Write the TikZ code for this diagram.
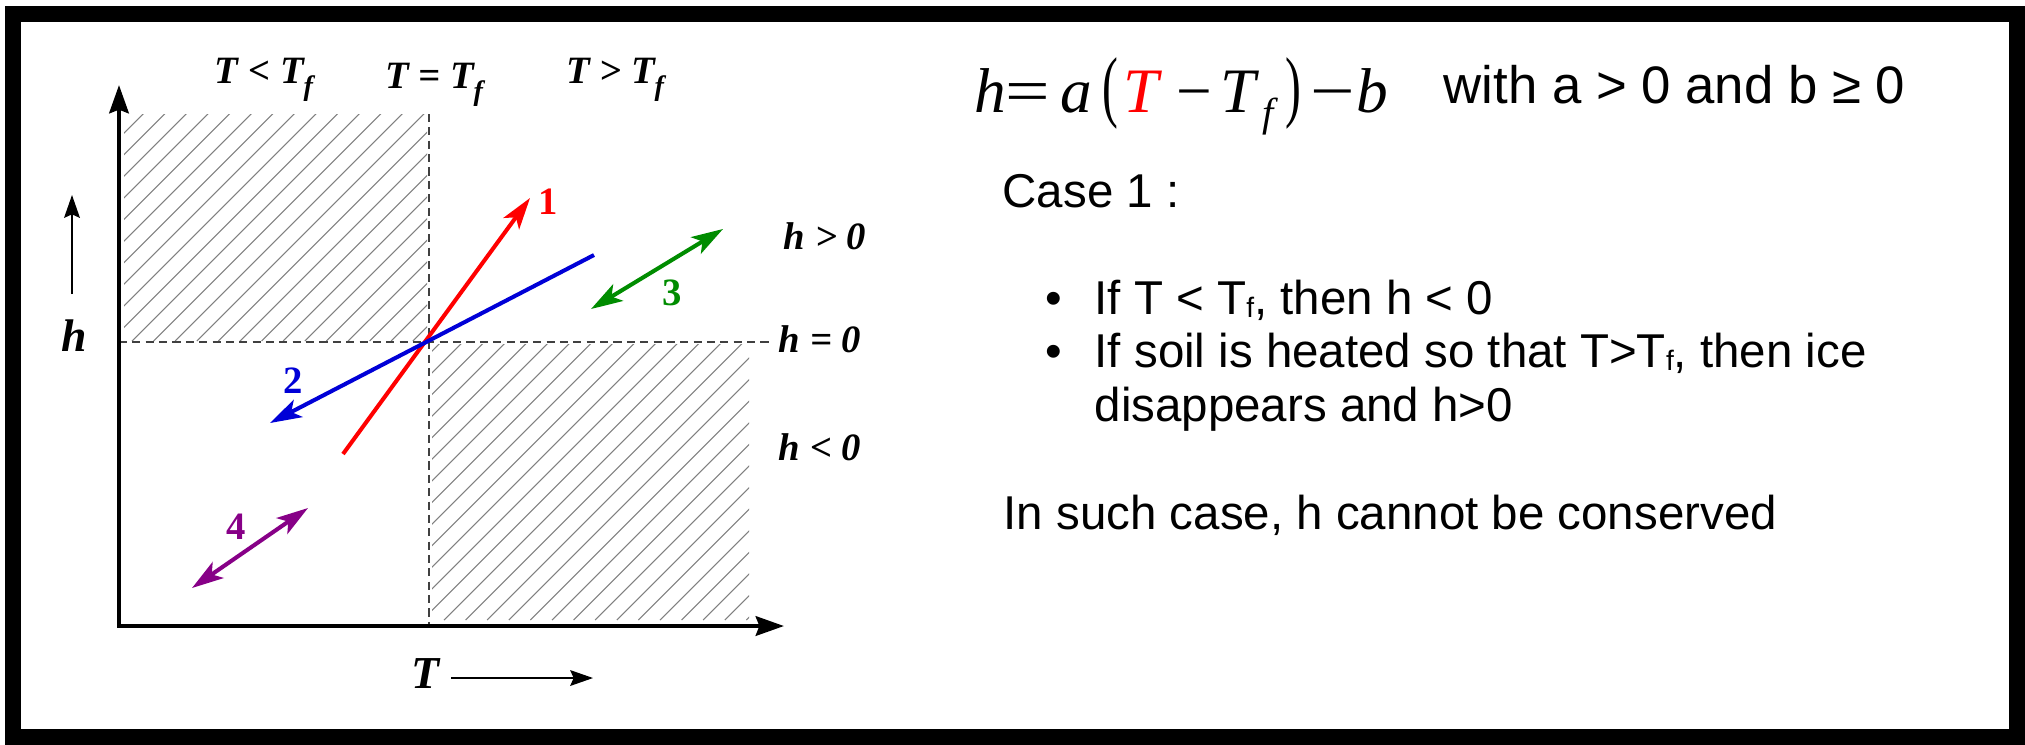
\documentclass[tikz,border=0pt]{standalone}
\usepackage{fontspec}
\usepackage{graphicx}
\setmainfont{Liberation Sans}
\newfontfamily\tms{Liberation Serif}
\usetikzlibrary{arrows.meta}
\definecolor{cred}{RGB}{255,0,0}
\definecolor{cblue}{RGB}{0,0,215}
\definecolor{cgreen}{RGB}{0,140,0}
\definecolor{cpurple}{RGB}{135,0,135}
\tikzset{
  axisline/.style={line width=1.3pt, {Stealth[length=8pt,width=5.5pt,inset=1pt]}-{Stealth[length=8pt,width=5.5pt,inset=1pt]}},
  guide/.style={line width=0.55pt, draw=black!75, dash pattern=on 2.3pt off 1.5pt},
  hatch/.style={line width=0.3pt, draw=black!50},
  vec/.style={line width=1.15pt},
  tip/.style={arrows={-Stealth[length=9pt,width=5.5pt,inset=2.2pt]}},
  dtip/.style={arrows={Stealth[length=9pt,width=5.5pt,inset=2.2pt]-Stealth[length=9pt,width=5.5pt,inset=2.2pt]}},
  thinarrow/.style={line width=0.35pt, -{Stealth[length=6.5pt,width=4.5pt,inset=1pt]}},
  plotlbl/.style={font=\fontsize{11}{13}\selectfont\tms\bfseries\itshape, inner sep=0, anchor=base},
  biglbl/.style={font=\fontsize{13}{15}\selectfont\tms\bfseries\itshape, inner sep=0, anchor=base},
  numlbl/.style={font=\fontsize{11}{13}\selectfont\tms\bfseries, inner sep=0},
  txt/.style={font=\fontsize{13.5}{16}\selectfont, inner sep=0, anchor=base west},
  eqi/.style={font=\fontsize{18}{21}\selectfont\tms\itshape, inner sep=0, anchor=base west},
  equ/.style={font=\fontsize{18}{21}\selectfont\tms, inner sep=0, anchor=base west},
  frame/.style={line width=4.3pt, draw=black}
}
\newcommand{\sub}[1]{\raisebox{-3.5pt}{\fontsize{8}{8}\selectfont #1}}
\newcommand{\tsub}[1]{\raisebox{-1pt}{\fontsize{8}{8}\selectfont #1}}
\begin{document}
\begin{tikzpicture}[x=0.01cm,y=-0.01cm]
\useasboundingbox (0,0) rectangle (2025,744);
\fill[white] (0,0) rectangle (2025,744);
\draw[frame] (13,14) rectangle (2017,737);

% hatched regions
\begin{scope}
\clip (124,114) rectangle (427,341);
\foreach \k in {-300,-278.4,...,440} \draw[hatch] (\k,341) -- ++(330,-330);
\end{scope}
\begin{scope}
\clip (432,344) rectangle (749,620);
\foreach \k in {120,141.6,...,760} \draw[hatch] (\k,620) -- ++(330,-330);
\end{scope}

% guides
\coordinate (vtop) at (429,114);
\coordinate (vbot) at (429,626);
\coordinate (hleft) at (119,342);
\coordinate (hright) at (772,342);
\draw[guide] (vtop) -- (vbot);
\draw[guide] (hleft) -- (hright);

% axes
\coordinate (ytop) at (119,85);
\coordinate (O) at (119,626);
\coordinate (xend) at (784,626);
\draw[axisline] (ytop) -- (O) -- (xend);

% vectors
\coordinate (r1) at (343,454);
\coordinate (r2) at (530,198);
\draw[vec, cred, tip] (r1) -- (r2);
\coordinate (b1) at (594,255);
\coordinate (b2) at (270,423);
\draw[vec, cblue, tip] (b1) -- (b2);
\coordinate (g1) at (591,309);
\coordinate (g2) at (723,229);
\draw[vec, cgreen, dtip] (g1) -- (g2);
\coordinate (p1) at (192,588);
\coordinate (p2) at (308,508);
\draw[vec, cpurple, dtip] (p1) -- (p2);

\node[numlbl, text=cred] (n1) at (548,202) {1};
\node[numlbl, text=cblue] (n2) at (293,381) {2};
\node[numlbl, text=cgreen] (n3) at (672,293) {3};
\node[numlbl, text=cpurple] (n4) at (236,527) {4};

% plot labels
\node[plotlbl] (tlt) at (264,83) {T < T\sub{f}};
\node[plotlbl] (teq) at (434,88) {T = T\sub{f}};
\node[plotlbl] (tgt) at (615,83) {T > T\sub{f}};
\node[plotlbl] (hgt) at (825,249) {h > 0};
\node[plotlbl] (heq) at (820,352) {h = 0};
\node[plotlbl] (hlt) at (820,460) {h < 0};
\node[biglbl] (hl) at (74,351) {h};
\node[biglbl] (Tl) at (425,688) {T};
\coordinate (ha1) at (72,294);
\coordinate (ha2) at (72,195);
\draw[thinarrow] (ha1) -- (ha2);
\coordinate (ta1) at (451,678);
\coordinate (ta2) at (593,678);
\draw[thinarrow] (ta1) -- (ta2);

% equation
\node[eqi] (eh) at (974,112) {h};
\node[equ] (eeq) at (1005,112) {\scalebox{1.25}[1]{=}};
\node[eqi] (ea) at (1060,112) {a};
\node[equ] (elp) at (1102,112) {\scalebox{0.75}[1.25]{(}};
\node[eqi, text=cred] (eT1) at (1123,112) {T};
\node[equ] (em1) at (1176,112) {−};
\node[eqi] (eT2) at (1220,112) {T};
\node[eqi, font=\fontsize{11.5}{12}\selectfont\tms\itshape] (ef) at (1262,126) {f};
\node[equ] (erp) at (1285,112) {\scalebox{0.75}[1.25]{)}};
\node[equ] (em2) at (1310,112) {\scalebox{1.25}[1]{−}};
\node[eqi] (eb) at (1356,112) {b};

% right text
\node[anchor=base west, inner sep=0, font=\fontsize{15}{18}\selectfont] (with) at (1443,103) {with a > 0 and b ≥ 0};
\node[txt] (case) at (1002,207) {Case 1 :};
\node[txt, anchor=base] (bul1) at (1054,314) {•};
\node[txt, anchor=base] (bul2) at (1054,367) {•};
\node[txt] (l1) at (1094,314) {If T < T\tsub{f}, then h < 0};
\node[txt] (l2) at (1094,367) {If soil is heated so that T>T\tsub{f}, then ice};
\node[txt] (l3) at (1094,421) {disappears and h>0};
\node[txt] (concl) at (1003,529) {In such case, h cannot be conserved};
\end{tikzpicture}
\end{document}
